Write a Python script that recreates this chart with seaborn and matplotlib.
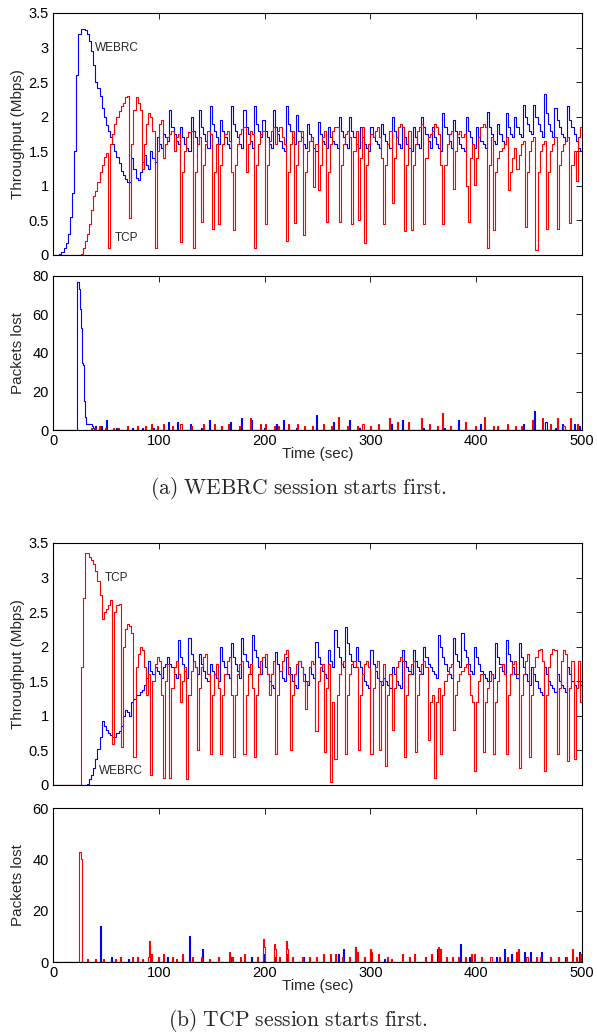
import numpy as np
import matplotlib
matplotlib.use("Agg")
import matplotlib.pyplot as plt
import seaborn as sns

# ---------------- data (2-second samples, t = 0..500) ----------------
webrc_a = [
    0, 0, 0, 0.02, 0.05, 0.1, 0.18, 0.3, 0.55, 0.9,
    1.5, 2.6, 3.2, 3.27, 3.27, 3.25, 3.2, 3.1, 2.95, 2.75,
    2.5, 2.42, 2.3, 2.12, 2.0, 1.88, 1.8, 1.7, 1.6, 1.5,
    1.42, 1.33, 1.22, 1.15, 1.1, 1.05, 1.05, 1.4, 1.25, 1.12,
    1.08, 1.2, 1.35, 1.45, 1.3, 1.25, 1.5, 1.4, 1.35, 1.7,
    1.6, 1.55, 1.75, 1.7, 1.65, 2.1, 1.85, 1.75, 1.65, 1.6,
    1.85, 1.7, 1.6, 1.55, 1.5, 2.0, 1.8, 1.7, 1.6, 2.1,
    1.85, 1.75, 1.65, 1.55, 2.15, 1.9, 1.8, 1.7, 1.6, 1.95,
    1.8, 1.7, 1.6, 1.55, 2.15, 1.9, 1.8, 1.7, 1.6, 1.55,
    2.1, 1.85, 1.75, 1.65, 1.55, 2.15, 1.9, 1.8, 1.7, 1.95,
    1.8, 1.7, 1.6, 1.55, 2.1, 1.85, 1.75, 1.65, 1.55, 1.5,
    2.15, 1.9, 1.8, 1.7, 1.6, 2.02, 1.8, 1.7, 1.6, 1.55,
    1.9, 1.75, 1.65, 1.55, 1.5, 1.92, 1.75, 1.65, 1.6, 1.55,
    1.85, 1.7, 1.65, 1.6, 1.55, 2.0, 1.8, 1.7, 1.6, 1.55,
    2.0, 1.8, 1.7, 1.6, 1.55, 1.85, 1.7, 1.6, 1.55, 1.5,
    1.85, 1.7, 1.65, 1.6, 1.55, 1.9, 1.75, 1.65, 1.6, 1.55,
    2.0, 1.8, 1.7, 1.6, 1.55, 1.85, 1.7, 1.6, 1.55, 1.5,
    1.85, 1.7, 1.6, 1.55, 2.0, 1.85, 1.75, 1.65, 1.55, 1.85,
    1.7, 1.6, 1.55, 1.5, 2.05, 1.85, 1.75, 1.65, 1.55, 1.95,
    1.8, 1.7, 1.6, 1.55, 1.5, 2.0, 1.8, 1.7, 1.6, 1.55,
    1.85, 1.7, 1.65, 1.6, 1.55, 2.07, 1.85, 1.75, 1.65, 1.6,
    1.9, 1.75, 1.65, 1.6, 2.05, 1.85, 1.75, 1.7, 2.0, 1.85,
    1.75, 1.7, 2.17, 2.0, 1.9, 1.8, 1.75, 2.17, 2.0, 1.9,
    1.8, 1.7, 2.33, 2.05, 1.9, 1.8, 1.7, 2.13, 1.95, 1.85,
    1.75, 1.7, 1.65, 2.15, 1.95, 1.85, 1.75, 1.65, 1.55, 1.5,
    1.5,
]

tcp_a = [
    0, 0, 0, 0, 0, 0, 0, 0, 0, 0,
    0, 0, 0, 0.02, 0.1, 0.2, 0.3, 0.45, 0.65, 0.85,
    0.92, 1.05, 1.2, 1.3, 1.42, 1.47, 0.1, 1.6, 1.75, 1.9,
    2.0, 2.08, 2.15, 2.2, 2.28, 2.3, 0.53, 1.6, 2.1, 2.28,
    2.2, 2.1, 1.25, 1.6, 1.9, 2.05, 2.0, 1.8, 0.1, 1.5,
    1.9, 1.95, 1.4, 1.6, 1.7, 1.75, 1.8, 1.5, 1.7, 1.75,
    0.19, 1.2, 1.5, 1.7, 1.78, 1.8, 0.1, 1.2, 1.6, 1.7,
    0.48, 1.3, 1.6, 1.8, 1.75, 0.38, 1.2, 1.6, 0.45, 1.3,
    1.6, 1.75, 1.8, 1.65, 1.2, 0.36, 1.3, 1.6, 1.75, 1.82,
    1.85, 1.2, 1.6, 1.8, 1.75, 0.1, 1.3, 1.6, 1.75, 1.8,
    0.45, 1.3, 1.65, 1.8, 1.85, 1.6, 1.8, 1.85, 1.7, 1.6,
    0.2, 1.2, 1.6, 1.8, 0.46, 1.3, 1.65, 1.8, 0.29, 1.2,
    1.5, 1.65, 1.7, 0.98, 1.6, 0.94, 1.3, 1.7, 1.8, 0.48,
    1.2, 1.6, 1.8, 1.85, 1.85, 0.48, 1.3, 1.6, 1.75, 1.8,
    1.7, 0.45, 1.5, 1.8, 0.5, 1.4, 1.85, 0.17, 1.3, 1.6,
    1.75, 1.7, 1.8, 1.85, 1.7, 1.4, 0.45, 1.3, 1.6, 1.8,
    0.75, 1.4, 1.7, 1.85, 1.9, 1.85, 0.34, 1.3, 1.8, 0.36,
    1.3, 1.6, 1.8, 1.85, 1.9, 0.45, 1.4, 1.7, 1.75, 1.8,
    1.9, 1.85, 1.75, 1.3, 0.45, 1.3, 1.6, 1.75, 1.8, 0.96,
    1.5, 1.75, 1.8, 1.7, 1.75, 1.0, 0.48, 1.4, 1.6, 1.01,
    1.4, 1.7, 1.85, 1.9, 1.85, 0.1, 1.3, 1.7, 0.36, 1.2,
    1.4, 1.5, 1.55, 1.6, 1.7, 0.94, 1.2, 1.4, 1.55, 1.25,
    1.45, 1.6, 1.65, 0.41, 1.2, 1.5, 1.65, 1.7, 0.07, 1.2,
    1.5, 1.6, 1.65, 0.38, 1.2, 1.5, 1.6, 1.7, 0.38, 1.3,
    1.5, 1.6, 1.65, 1.7, 0.46, 1.3, 1.5, 1.07, 1.7, 1.85,
    1.8,
]

webrc_b = [
    0, 0, 0, 0, 0, 0, 0, 0, 0, 0,
    0, 0, 0, 0, 0, 0, 0.02, 0.08, 0.15, 0.25,
    0.38, 0.52, 0.7, 0.92, 0.85, 0.8, 0.75, 0.72, 0.7, 0.7,
    0.75, 0.78, 0.85, 1.0, 1.08, 1.05, 1.0, 1.2, 1.25, 1.3,
    1.3, 1.35, 1.38, 1.45, 1.55, 1.8, 1.65, 1.6, 1.7, 1.65,
    1.6, 1.55, 1.7, 1.75, 1.85, 1.75, 1.7, 1.6, 1.55, 2.1,
    1.85, 1.75, 1.65, 1.55, 2.13, 1.9, 1.8, 1.7, 1.6, 1.9,
    1.75, 1.65, 1.55, 1.5, 1.75, 1.65, 1.6, 1.55, 1.5, 2.0,
    1.8, 1.7, 1.6, 1.55, 2.05, 1.85, 1.75, 1.65, 1.55, 2.13,
    1.9, 1.8, 1.7, 1.6, 2.17, 1.95, 1.85, 1.7, 1.6, 1.85,
    1.7, 1.6, 1.5, 1.45, 1.4, 1.92, 1.75, 1.65, 1.55, 1.5,
    1.85, 1.7, 1.6, 1.5, 1.45, 1.4, 1.8, 1.7, 1.6, 1.5,
    1.45, 1.7, 1.6, 1.55, 2.07, 1.85, 1.75, 1.65, 1.6, 1.55,
    1.95, 1.8, 1.7, 2.24, 2.0, 1.85, 1.75, 1.7, 2.28, 2.05,
    1.9, 1.8, 1.7, 2.0, 1.8, 1.7, 1.6, 1.5, 1.45, 1.4,
    1.95, 1.75, 1.65, 1.55, 1.5, 1.45, 1.55, 1.5, 1.45, 1.4,
    1.7, 1.6, 1.5, 1.45, 1.4, 1.95, 1.8, 1.7, 1.65, 1.6,
    1.95, 1.8, 1.7, 1.65, 1.6, 2.0, 1.85, 1.75, 1.7, 1.65,
    1.6, 1.55, 2.17, 2.0, 1.85, 1.75, 1.65, 1.6, 1.55, 2.12,
    1.9, 1.8, 1.7, 2.2, 1.95, 1.85, 1.75, 1.65, 1.6, 2.0,
    1.85, 1.75, 1.65, 1.6, 1.55, 1.5, 1.65, 1.6, 1.55, 2.05,
    1.85, 1.75, 1.65, 1.6, 2.1, 1.9, 1.8, 1.7, 1.6, 1.55,
    2.05, 1.85, 1.7, 1.6, 1.5, 1.45, 1.7, 1.6, 1.5, 1.4,
    1.35, 1.3, 1.7, 1.6, 1.5, 1.45, 1.4, 1.35, 1.6, 1.5,
    1.45, 1.4, 1.35, 1.7, 1.6, 1.5, 1.45, 1.4, 1.5, 1.45,
    1.4,
]

tcp_b = [
    0, 0, 0, 0, 0, 0, 0, 0, 0, 0,
    0, 0, 0, 1.7, 2.7, 3.35, 3.35, 3.3, 3.25, 3.2,
    3.1, 2.95, 2.75, 2.4, 2.5, 2.55, 2.6, 2.68, 0.6, 2.5,
    2.6, 2.62, 0.55, 2.0, 2.25, 2.33, 2.3, 2.2, 0.4, 1.7,
    1.9, 2.0, 1.95, 1.7, 1.3, 1.6, 0.15, 1.5, 1.75, 1.85,
    1.8, 1.3, 0.1, 1.5, 1.75, 0.1, 1.4, 1.7, 1.8, 1.6,
    1.2, 1.5, 1.7, 0.08, 1.3, 1.65, 1.8, 1.7, 0.5, 1.4,
    1.7, 1.85, 1.9, 1.6, 0.45, 1.3, 1.6, 1.75, 1.4, 0.45,
    1.3, 1.6, 1.8, 1.85, 1.3, 0.4, 1.3, 1.6, 1.75, 1.8,
    0.45, 1.3, 1.6, 1.75, 1.4, 0.4, 1.3, 1.6, 1.8, 1.85,
    1.9, 1.6, 1.3, 1.6, 1.8, 0.45, 1.3, 1.65, 1.8, 1.9,
    1.95, 1.6, 0.5, 1.3, 1.6, 1.75, 1.8, 1.7, 1.5, 1.1,
    1.5, 1.7, 1.8, 1.75, 0.78, 1.5, 1.7, 1.75, 0.48, 1.4,
    1.75, 0.05, 1.2, 0.38, 1.3, 1.6, 1.75, 1.8, 0.45, 1.3,
    1.6, 1.75, 1.8, 1.7, 0.5, 1.3, 1.6, 1.75, 1.8, 1.7,
    0.45, 1.4, 1.7, 1.8, 0.5, 1.5, 1.75, 0.28, 1.3, 1.6,
    0.8, 1.4, 1.7, 1.8, 1.85, 1.8, 0.4, 1.3, 1.6, 1.75,
    1.8, 0.48, 1.3, 1.6, 1.75, 1.8, 1.7, 0.65, 1.2, 1.3,
    0.1, 1.2, 1.4, 0.45, 1.3, 1.5, 1.6, 1.7, 1.75, 0.8,
    1.3, 1.5, 1.6, 1.65, 1.7, 1.75, 1.6, 1.3, 1.2, 0.2,
    1.2, 1.5, 1.6, 0.48, 1.2, 1.4, 1.5, 1.6, 0.45, 1.2,
    1.5, 1.7, 1.75, 1.6, 0.45, 1.3, 1.6, 1.75, 1.8, 1.6,
    0.25, 1.3, 1.6, 1.8, 1.9, 0.4, 1.3, 1.7, 1.85, 1.95,
    1.97, 1.8, 0.2, 1.3, 1.7, 1.9, 1.97, 1.95, 0.45, 1.4,
    1.8, 1.95, 1.9, 0.35, 1.4, 1.8, 0.38, 1.4, 1.8, 1.2,
    1.8,
]

# packet-loss events (time in seconds, packets lost)
loss_a_webrc_t = [23, 24, 25, 26, 27, 28, 29, 30, 31, 32, 33, 34, 35, 36, 37, 38, 40, 46, 51, 60,
                  75, 85, 95, 109, 118, 130, 140, 148, 159, 168, 178, 188, 200, 211, 218, 230, 249,
                  265, 280, 290, 300, 320, 330, 350, 370, 383, 390, 404, 420, 430, 445, 455, 466,
                  475, 482, 493, 498]
loss_a_webrc_v = [77, 77, 73, 63, 53, 35, 34, 15, 7, 3, 3, 3, 3, 3, 2, 1, 2, 2, 5, 1,
                  1, 1, 1, 4, 4, 3, 1, 5, 2, 4, 6, 5, 1, 3, 5, 1, 8,
                  4, 5, 1, 1, 3, 5, 1, 1, 5, 1, 3, 1, 1, 3, 10, 4,
                  1, 3, 3, 2]
loss_a_tcp_t = [36, 40, 44, 50, 57, 62, 70, 80, 87, 93, 99, 104, 113, 121, 131, 142, 153, 159, 166,
                176, 187, 196, 201, 209, 213, 223, 231, 238, 245, 256, 263, 270, 278, 288, 293, 300,
                308, 318, 326, 336, 348, 356, 363, 368, 376, 390, 399, 408, 416, 420, 430, 437, 443,
                453, 463, 470, 477, 483, 489, 496]
loss_a_tcp_v = [1, 1, 2, 1, 1, 1, 2, 2, 2, 3, 2, 3, 2, 3, 2, 3, 3, 2, 3,
                2, 6, 3, 3, 2, 2, 3, 3, 2, 2, 3, 2, 7, 2, 2, 3, 2,
                3, 6, 4, 4, 6, 3, 2, 9, 2, 4, 2, 7, 2, 2, 3, 2, 2,
                5, 6, 3, 6, 2, 6, 3]
loss_b_webrc_t = [45, 55, 71, 108, 129, 141, 169, 188, 199, 209, 222, 237, 270, 275, 286, 300, 313,
                  352, 363, 385, 394, 419, 427, 433, 446, 451, 462, 484, 498]
loss_b_webrc_v = [14, 2, 1, 2, 10, 5, 2, 2, 3, 2, 3, 2, 3, 5, 6, 4, 1,
                  2, 5, 7, 2, 2, 5, 3, 4, 4, 4, 2, 4]
loss_b_tcp_t = [25, 26, 27, 33, 40, 48, 59, 64, 75, 80, 85, 90, 91, 93, 100, 104, 113, 117, 122, 132,
                140, 148, 156, 167, 170, 177, 181, 193, 199, 200, 209, 210, 214, 221, 222, 226, 236,
                242, 249, 256, 262, 267, 274, 280, 286, 288, 294, 300, 301, 308, 316, 320, 330, 337,
                342, 352, 358, 364, 366, 372, 378, 383, 390, 396, 398, 405, 414, 422, 430, 438, 440,
                448, 457, 461, 470, 478, 485, 491, 495, 499]
loss_b_tcp_v = [43, 43, 40, 1, 1, 1, 1, 2, 2, 2, 1, 2, 8, 3, 2, 3, 2, 1, 3, 2,
                2, 1, 2, 4, 2, 2, 3, 2, 9, 6, 7, 5, 2, 8, 5, 2, 2,
                2, 2, 3, 3, 3, 2, 2, 6, 4, 2, 5, 4, 3, 2, 1, 3, 2,
                3, 2, 3, 6, 5, 2, 2, 2, 2, 3, 3, 2, 2, 2, 2, 4, 5,
                2, 2, 2, 2, 2, 2, 5, 2, 3]

thr_ticks = [0, 0.5, 1, 1.5, 2, 2.5, 3, 3.5]
time_ticks = [0, 100, 200, 300, 400, 500]

# ---------------- style ----------------
sns.set_style("white")
plt.rcParams["font.family"] = ["Liberation Sans", "DejaVu Sans"]
plt.rcParams["mathtext.fontset"] = "cm"

BLUE = (0, 0, 1)
RED = (1, 0, 0)


def thr_time(vals):
    return np.arange(len(vals)) * 2.0


def loss_series(ts, vs):
    t = np.arange(0, 501)
    v = np.zeros_like(t, dtype=float)
    for ti, vi in zip(ts, vs):
        v[ti] = vi
    return t, v


fig = plt.figure(figsize=(5.97, 10.36), dpi=100)
W, H = 597.0, 1036.0
L, R = 53, 582


def axes_px(top, bottom):
    return fig.add_axes([L / W, 1 - bottom / H, (R - L) / W, (bottom - top) / H])


ax1 = axes_px(13, 255)
ax2 = axes_px(276, 430)
ax3 = axes_px(543, 785)
ax4 = axes_px(808, 962)


def style(ax, yticks, ylim, xlabels):
    ax.set_xlim(0, 500)
    ax.set_ylim(*ylim)
    ax.set_xticks(time_ticks)
    ax.set_yticks(yticks)
    ax.set_yticklabels([("%g" % y) for y in yticks])
    if not xlabels:
        ax.set_xticklabels([])
    ax.tick_params(direction="in", top=True, right=True, length=4.5, width=0.6,
                   labelsize=10.5, pad=3, colors="black")
    for s in ax.spines.values():
        s.set_linewidth(0.8)
        s.set_color("black")


# (a) throughput
sns.lineplot(x=thr_time(webrc_a), y=webrc_a, ax=ax1, color=BLUE, lw=0.8,
             drawstyle="steps-post", estimator=None)
sns.lineplot(x=thr_time(tcp_a), y=tcp_a, ax=ax1, color=RED, lw=0.8,
             drawstyle="steps-post", estimator=None)
style(ax1, thr_ticks, (0, 3.5), False)
ax1.set_ylabel("Throughput (Mbps)", fontsize=11)
ax1.text(40, 3.0, "WEBRC", fontsize=8.5, va="center")
ax1.text(58, 0.25, "TCP", fontsize=8.5, va="center")

# (a) packets lost
t, v = loss_series(loss_a_webrc_t, loss_a_webrc_v)
sns.lineplot(x=t, y=v, ax=ax2, color=BLUE, lw=0.8, drawstyle="steps-mid", estimator=None)
t, v = loss_series(loss_a_tcp_t, loss_a_tcp_v)
sns.lineplot(x=t, y=v, ax=ax2, color=RED, lw=0.8, drawstyle="steps-mid", estimator=None)
style(ax2, [0, 20, 40, 60, 80], (0, 80), True)
ax2.set_ylabel("Packets lost", fontsize=11)
ax2.set_xlabel("Time (sec)", fontsize=11, labelpad=-1)

# (b) throughput
sns.lineplot(x=thr_time(webrc_b), y=webrc_b, ax=ax3, color=BLUE, lw=0.8,
             drawstyle="steps-post", estimator=None)
sns.lineplot(x=thr_time(tcp_b), y=tcp_b, ax=ax3, color=RED, lw=0.8,
             drawstyle="steps-post", estimator=None)
style(ax3, thr_ticks, (0, 3.5), False)
ax3.set_ylabel("Throughput (Mbps)", fontsize=11)
ax3.text(49, 3.0, "TCP", fontsize=8.5, va="center")
ax3.text(43, 0.2, "WEBRC", fontsize=8.5, va="center")

# (b) packets lost
t, v = loss_series(loss_b_webrc_t, loss_b_webrc_v)
sns.lineplot(x=t, y=v, ax=ax4, color=BLUE, lw=0.8, drawstyle="steps-mid", estimator=None)
t, v = loss_series(loss_b_tcp_t, loss_b_tcp_v)
sns.lineplot(x=t, y=v, ax=ax4, color=RED, lw=0.8, drawstyle="steps-mid", estimator=None)
style(ax4, [0, 20, 40, 60], (0, 60), True)
ax4.set_ylabel("Packets lost", fontsize=11)
ax4.set_xlabel("Time (sec)", fontsize=11, labelpad=-1)

for ax in (ax1, ax2, ax3, ax4):
    ax.yaxis.set_label_coords(-0.052, 0.5)

fig.text(0.5, 1 - 488 / H, r"$\mathrm{(a)\ WEBRC\ session\ starts\ first.}$",
         ha="center", va="center", fontsize=15.5)
fig.text(0.5, 1 - 1020 / H, r"$\mathrm{(b)\ TCP\ session\ starts\ first.}$",
         ha="center", va="center", fontsize=15.5)

fig.savefig("out.png", dpi=100)
